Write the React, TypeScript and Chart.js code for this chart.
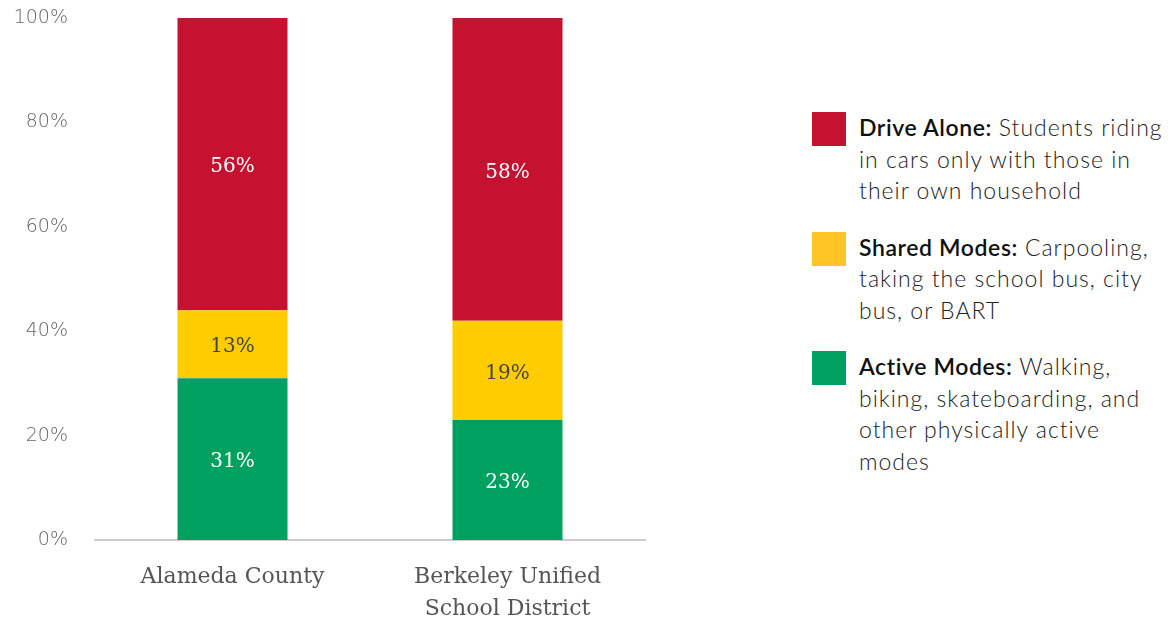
import React, { useEffect, useRef } from "react";
import { Chart, registerables } from "chart.js";

Chart.register(...registerables);

const categories: (string | string[])[] = ["Alameda County", ["Berkeley Unified", "School District"]];
const seriesNames = ["Active Modes", "Shared Modes", "Drive Alone"];
const activeModes = [31, 23];
const sharedModes = [13, 19];
const driveAlone = [56, 58];
const yTicks = [0, 20, 40, 60, 80, 100];

const barColors = ["#00A160", "#FFCC00", "#C41230"];
const labelColors = ["#ffffff", "#444444", "#ffffff"];

const legendItems = [
  { color: "#C41230", title: "Drive Alone:", lines: ["Students riding", "in cars only with those in", "their own household"] },
  { color: "#FFC425", title: "Shared Modes:", lines: ["Carpooling,", "taking the school bus, city", "bus, or BART"] },
  { color: "#00A060", title: "Active Modes:", lines: ["Walking,", "biking, skateboarding, and", "other physically active", "modes"] },
];

const barLabelPlugin = {
  id: "barLabels",
  afterDatasetsDraw(chart: any) {
    const ctx = chart.ctx;
    chart.data.datasets.forEach((ds: any, di: number) => {
      const meta = chart.getDatasetMeta(di);
      meta.data.forEach((el: any, i: number) => {
        const v = ds.data[i];
        ctx.save();
        ctx.font = "20px 'DejaVu Serif'";
        ctx.fillStyle = labelColors[di];
        ctx.textAlign = "center";
        ctx.textBaseline = "middle";
        ctx.fillText(v + "%", el.x, (el.y + el.base) / 2 + 3);
        ctx.restore();
      });
    });
  },
};

const zeroPad = (s: any) => {
  s.paddingTop = 0;
  s.paddingBottom = 0;
  s.paddingLeft = 0;
  s.paddingRight = 0;
};

export default function App() {
  const ref = useRef<HTMLCanvasElement | null>(null);
  useEffect(() => {
    if (!ref.current) return;
    const chart = new Chart(ref.current, {
      type: "bar",
      data: {
        labels: categories as any,
        datasets: [activeModes, sharedModes, driveAlone].map((d, i) => ({
          label: seriesNames[i],
          data: d,
          backgroundColor: barColors[i],
          borderWidth: 0,
          barPercentage: 0.4,
          categoryPercentage: 1,
        })),
      },
      options: {
        responsive: false,
        animation: false,
        events: [],
        layout: { padding: { top: 18, right: 15, left: 0, bottom: 0 } },
        plugins: { legend: { display: false }, tooltip: { enabled: false } },
        scales: {
          x: {
            stacked: true,
            grid: { display: false, drawTicks: false },
            border: { display: true, color: "#cccccc", width: 2 },
            ticks: {
              color: "#555555",
              padding: 21,
              font: { family: "'DejaVu Serif'", size: 22, lineHeight: 1.45 },
            },
            afterFit: (s: any) => { s.height = 81; zeroPad(s); },
          },
          y: {
            stacked: true,
            min: 0,
            max: 100,
            afterBuildTicks: (s: any) => { s.ticks = yTicks.map((v) => ({ value: v })); },
            grid: { display: false, drawTicks: false },
            border: { display: false },
            ticks: {
              color: "#666666",
              padding: 27,
              font: { family: "'DejaVu Sans'", size: 19, weight: "200" },
              callback: (v: any) => v + "%",
            },
            afterFit: (s: any) => { s.width = 95; zeroPad(s); },
          },
        },
      },
      plugins: [barLabelPlugin],
    });
    return () => chart.destroy();
  }, []);

  return (
    <div>
      <canvas ref={ref} width={660} height={621} style={{ position: "absolute", left: 0, top: 0 }} />
      <div style={{ position: "absolute", left: 812, top: 112, width: 363, fontFamily: "Lato, 'Noto Sans', sans-serif", fontSize: 23, lineHeight: "31.5px", letterSpacing: "1px", color: "#222" }}>
        {legendItems.map((it, i) => (
          <div key={i} style={{ position: "relative", paddingLeft: 47, marginBottom: 25 }}>
            <span style={{ position: "absolute", left: 0, top: 0, width: 34, height: 34, background: it.color }} />
            <span style={{ fontWeight: 600, color: "#111", letterSpacing: "0.6px" }}>{it.title}</span>{" "}
            <span style={{ fontWeight: 300 }}>{it.lines[0]}</span>
            {it.lines.slice(1).map((l, j) => (
              <React.Fragment key={j}>
                <br />
                <span style={{ fontWeight: 300 }}>{l}</span>
              </React.Fragment>
            ))}
          </div>
        ))}
      </div>
    </div>
  );
}
